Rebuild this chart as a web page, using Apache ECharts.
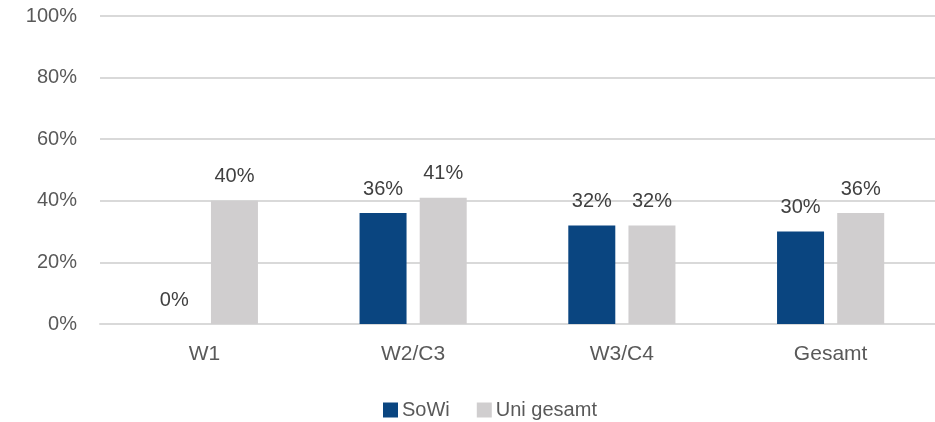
<!DOCTYPE html>
<html>
<head>
<meta charset="utf-8">
<script src="https://cdn.jsdelivr.net/npm/echarts@6/dist/echarts.min.js"></script>
<style>
html, body { margin: 0; padding: 0; background: #fff; }
#main { width: 935px; height: 422px; }
</style>
</head>
<body>
<div id="main"></div>
<script>
var categories = ['W1', 'W2/C3', 'W3/C4', 'Gesamt'];
var sowi = [0, 36, 32, 30];
var uniGesamt = [40, 41, 32, 36];
var yTicks = [0, 20, 40, 60, 80, 100];

var textColor = '#595959';
var fontFamily = '"Liberation Sans", Arial, sans-serif';

var myChart = echarts.init(document.getElementById('main'));

function barLabel() {
    return {
        show: true,
        position: 'top',
        distance: 14,
        color: '#404040',
        fontSize: 20,
        fontFamily: fontFamily,
        formatter: function (p) { return p.value + '%'; }
    };
}

var option = {
    backgroundColor: '#fff',
    animation: false,
    grid: {
        left: 100,
        right: 0,
        top: 16,
        bottom: 98
    },
    legend: {
        top: 400,
        left: 383,
        padding: 0,
        itemWidth: 15,
        itemHeight: 15,
        itemGap: 27,
        icon: 'rect',
        textStyle: {
            color: textColor,
            fontSize: 20,
            fontFamily: fontFamily,
            padding: [0, 0, 0, -1]
        },
        data: ['SoWi', 'Uni gesamt']
    },
    xAxis: {
        type: 'category',
        data: categories,
        axisLine: { lineStyle: { color: '#d9d9d9', width: 2 } },
        axisTick: { show: false },
        axisLabel: {
            color: textColor,
            fontSize: 21,
            fontFamily: fontFamily,
            margin: 20
        }
    },
    yAxis: {
        type: 'value',
        min: yTicks[0],
        max: yTicks[yTicks.length - 1],
        interval: 20,
        axisLine: { show: false },
        axisTick: { show: false },
        splitLine: { lineStyle: { color: '#d9d9d9', width: 2 } },
        axisLabel: {
            color: textColor,
            fontSize: 20,
            fontFamily: fontFamily,
            margin: 23,
            formatter: '{value}%'
        }
    },
    series: [{
        name: 'SoWi',
        type: 'bar',
        data: sowi,
        barWidth: 47,
        barGap: '28%',
        itemStyle: { color: '#0a4580' },
        label: barLabel()
    }, {
        name: 'Uni gesamt',
        type: 'bar',
        data: uniGesamt,
        barWidth: 47,
        itemStyle: { color: '#d0cecf' },
        label: barLabel()
    }]
};

myChart.setOption(option);
</script>
</body>
</html>
